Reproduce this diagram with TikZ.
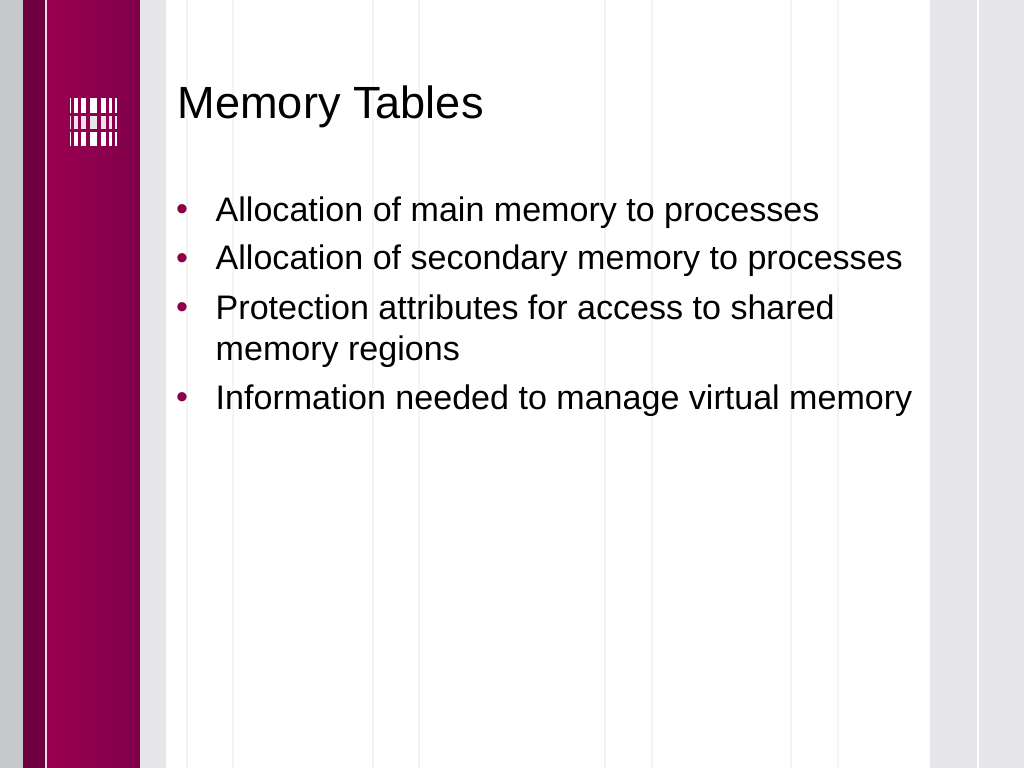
\documentclass[tikz,border=0pt]{standalone}
\usepackage{fontspec}
\setmainfont{Liberation Sans}
\usepackage{xcolor}
\usetikzlibrary{positioning}
\definecolor{sidegray}{HTML}{C5C9C9}
\definecolor{paleband}{HTML}{E6E6E8}
\definecolor{darkplum}{HTML}{6F0040}
\definecolor{crimsonL}{HTML}{9A0050}
\definecolor{crimsonR}{HTML}{80004A}
\definecolor{bulletred}{HTML}{8C0048}
\definecolor{faintline}{HTML}{F4F4F5}
\tikzset{
    heading/.style={anchor=base west, inner sep=0pt, font=\fontsize{12.84}{15}\selectfont},
    itemtext/.style={anchor=base west, inner sep=0pt, align=left, font=\fontsize{9.69}{11.55}\selectfont},
    itembullet/.style={anchor=base, inner sep=0pt, text=bulletred, font=\fontsize{9.69}{11.55}\selectfont},
}
\begin{document}
\begin{tikzpicture}[y=-1cm]
    \useasboundingbox (0,0) rectangle (10.24,7.68);
    % Side bands
    \fill[white] (0,0) rectangle (10.24,7.68);
    \fill[sidegray] (0,0) rectangle (0.23,7.68);
    \fill[darkplum] (0.23,0) rectangle (0.45,7.68);
    \fill[white!85!crimsonL] (0.45,0) rectangle (0.47,7.68);
    \shade[left color=crimsonL, right color=crimsonR] (0.47,0) rectangle (1.40,7.68);
    \fill[paleband] (1.40,0) rectangle (1.66,7.68);
    \fill[paleband] (9.30,0) rectangle (9.77,7.68);
    \fill[paleband] (9.79,0) rectangle (10.24,7.68);

    % Faint rules
    \foreach \x in {1.87,2.33,3.73,4.19,6.05,6.52,7.91,8.38}
        \draw[faintline, line width=0.5pt] (\x,0) -- (\x,7.68);

    % Logo
    \foreach \a/\b in {0.70/0.715,0.74/0.78,0.81/0.86,0.90/0.97,1.01/1.06,1.09/1.12,1.15/1.17} {
        \fill[white] (\a,0.98) rectangle (\b,1.13);
        \fill[white!88!crimsonL] (\a,1.155) rectangle (\b,1.29);
        \fill[white] (\a,1.315) rectangle (\b,1.46);
    }
    \fill[paleband] (0.90,1.155) rectangle (0.97,1.29);

    % Title
    \node[heading] (title) at (1.77,1.185) {Memory Tables};

    % Items
    \node[itembullet] (b1) at (1.82,2.20) {•};
    \node[itemtext] (t1) at (2.15,2.21) {Allocation of main memory to processes};
    \node[itembullet] (b2) at (1.82,2.70) {•};
    \node[itemtext] (t2) at (2.15,2.70) {Allocation of secondary memory to processes};
    \node[itembullet] (b3) at (1.82,3.18) {•};
    \node[itemtext] (t3) at (2.15,3.60) {Protection attributes for access to shared\\memory regions};
    \node[itembullet] (b4) at (1.82,4.08) {•};
    \node[itemtext] (t4) at (2.15,4.09) {Information needed to manage virtual memory};
\end{tikzpicture}
\end{document}
